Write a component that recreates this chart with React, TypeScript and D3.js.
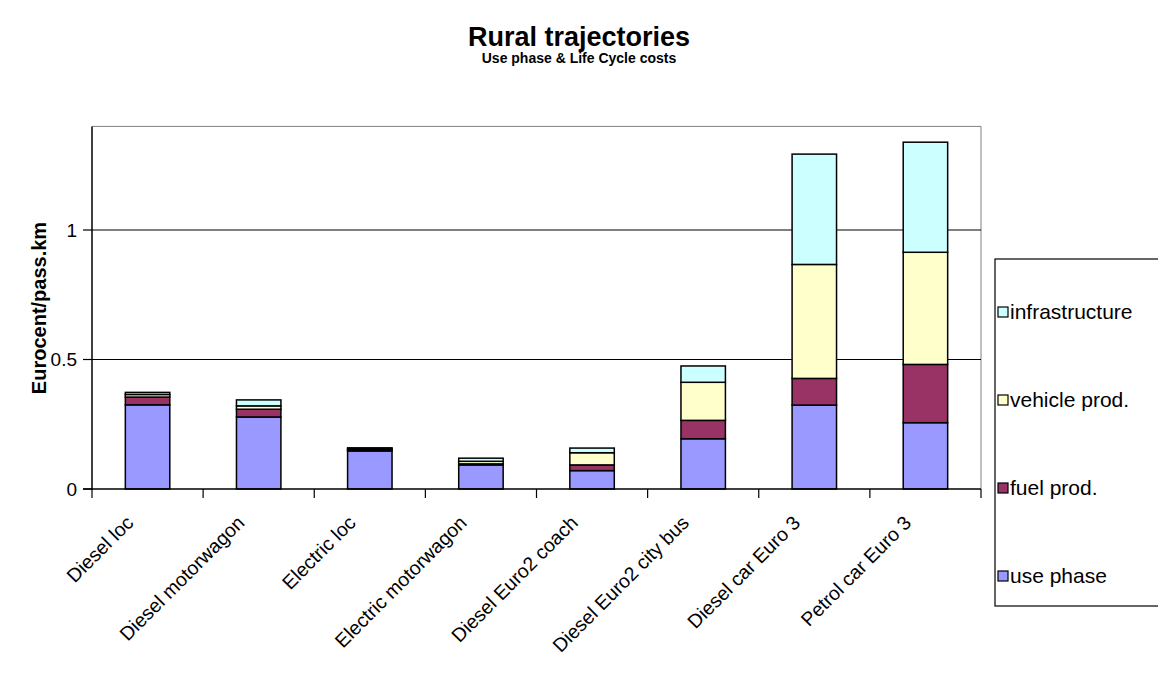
import React from "react";
import * as d3 from "d3";

const categories = [
  "Diesel loc",
  "Diesel motorwagon",
  "Electric loc",
  "Electric motorwagon",
  "Diesel Euro2 coach",
  "Diesel Euro2 city bus",
  "Diesel car Euro 3",
  "Petrol car Euro 3",
];
const usePhase = [0.325, 0.278, 0.147, 0.093, 0.071, 0.194, 0.324, 0.256];
const fuelProd = [0.03, 0.03, 0.004, 0.004, 0.022, 0.071, 0.103, 0.225];
const vehicleProd = [0.01, 0.013, 0.004, 0.01, 0.047, 0.147, 0.44, 0.433];
const infrastructure = [0.008, 0.023, 0.004, 0.012, 0.018, 0.063, 0.426, 0.425];
const seriesNames = ["use phase", "fuel prod.", "vehicle prod.", "infrastructure"];
const seriesColors = ["#9999FF", "#993366", "#FFFFCC", "#CCFFFF"];
const yTicks = [0, 0.5, 1];

const W = 1158;
const H = 675;
const FONT = "'Liberation Sans', Arial, sans-serif";

export default function App() {
  const left = 92, right = 981, top = 126.4, bottom = 489;
  const x = d3.scaleBand<string>().domain(categories).range([left, right]).paddingInner(0).paddingOuter(0);
  const y = d3.scaleLinear().domain([0, 1.4]).range([bottom, top]);
  const rows = categories.map((c, i) => ({
    cat: c,
    "use phase": usePhase[i],
    "fuel prod.": fuelProd[i],
    "vehicle prod.": vehicleProd[i],
    infrastructure: infrastructure[i],
  }));
  const stacked = d3.stack<any>().keys(seriesNames)(rows);
  const barW = x.bandwidth() * 0.4;
  const boundaries = d3.range(categories.length + 1).map((i) => left + i * x.step());

  const legendTop = 259, legendBottom = 606;
  const legendItems = [...seriesNames].reverse();
  const legendColors = [...seriesColors].reverse();
  const legendFirst = 312, legendStep = 88;

  return (
    <svg width={W} height={H} style={{ position: "absolute", left: 0, top: 0, background: "#fff" }} fontFamily={FONT}>
      <rect x={0} y={0} width={W} height={H} fill="#fff" />
      <text x={579} y={46} textAnchor="middle" fontSize={27} fontWeight="bold">Rural trajectories</text>
      <text x={579} y={63} textAnchor="middle" fontSize={14} fontWeight="bold">Use phase &amp; Life Cycle costs</text>

      {/* plot area border */}
      <line x1={left} x2={right} y1={y(1.4)} y2={y(1.4)} stroke="#808080" strokeWidth={1} />
      <line x1={right} x2={right} y1={y(1.4)} y2={bottom} stroke="#808080" strokeWidth={1} />

      {/* gridlines */}
      {yTicks.filter((t) => t > 0).map((t) => (
        <line key={t} x1={left} x2={right} y1={y(t)} y2={y(t)} stroke="#000" strokeWidth={1.2} />
      ))}

      {/* bars */}
      {stacked.map((s, si) => (
        <g key={s.key}>
          {s.map((d, i) => (
            <rect
              key={i}
              x={x(categories[i])! + (x.bandwidth() - barW) / 2}
              y={y(d[1])}
              width={barW}
              height={y(d[0]) - y(d[1])}
              fill={seriesColors[si]}
              stroke="#000"
              strokeWidth={1.5}
            />
          ))}
        </g>
      ))}

      {/* axes */}
      <line x1={left} x2={left} y1={y(1.4)} y2={bottom + 1} stroke="#000" strokeWidth={1.5} />
      <line x1={left - 9} x2={right} y1={bottom} y2={bottom} stroke="#000" strokeWidth={1.5} />
      {yTicks.map((t) => (
        <g key={t}>
          <line x1={left - 9} x2={left} y1={y(t)} y2={y(t)} stroke="#000" strokeWidth={1.2} />
          <text x={left - 15} y={y(t)} dy="0.35em" textAnchor="end" fontSize={19}>{t}</text>
        </g>
      ))}
      {boundaries.map((bx, i) => (
        <line key={i} x1={bx} x2={bx} y1={bottom} y2={bottom + 9} stroke="#000" strokeWidth={1.2} />
      ))}
      {categories.map((c) => {
        const cx = x(c)! + x.bandwidth() / 2;
        return (
          <text key={c} transform={`translate(${cx - 13},${bottom + 35}) rotate(-45)`} textAnchor="end" fontSize={19.5}>
            {c}
          </text>
        );
      })}

      <text transform={`translate(46,308) rotate(-90)`} textAnchor="middle" fontSize={20} fontWeight="bold">Eurocent/pass.km</text>

      {/* legend */}
      <rect x={995} y={legendTop} width={200} height={legendBottom - legendTop} fill="#fff" stroke="#000" strokeWidth={1.2} />
      {legendItems.map((n, i) => {
        const cy = legendFirst + legendStep * i;
        return (
          <g key={n}>
            <rect x={998} y={cy - 5} width={10} height={10} fill={legendColors[i]} stroke="#000" strokeWidth={1.2} />
            <text x={1010} y={cy} dy="0.35em" fontSize={21}>{n}</text>
          </g>
        );
      })}
    </svg>
  );
}
